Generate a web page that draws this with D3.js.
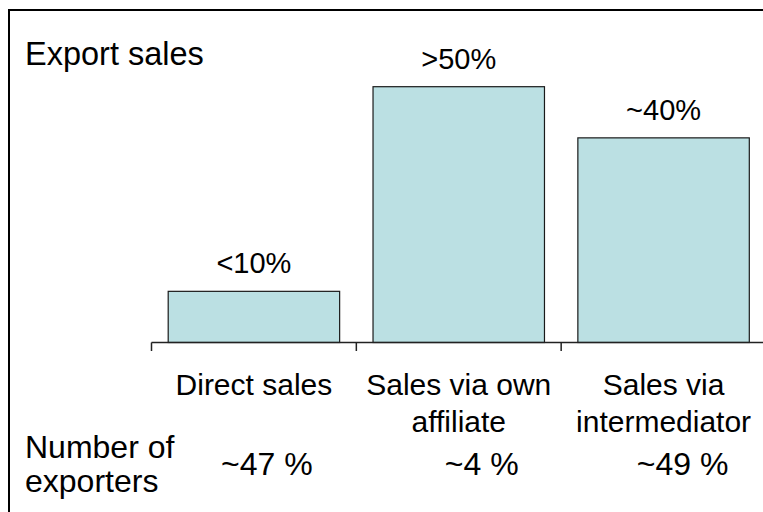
<!DOCTYPE html>
<html>
<head>
<meta charset="utf-8">
<script src="https://cdn.jsdelivr.net/npm/d3@7"></script>
<style>
  html, body { margin: 0; padding: 0; background: #fff; }
  svg { display: block; }
  text { font-family: "Liberation Sans", Arial, sans-serif; fill: #000; }
</style>
</head>
<body>
<svg id="chart" width="763" height="512"></svg>
<script>
// ---- data ----
const categories = ["Direct sales", "Sales via own affiliate", "Sales via intermediator"];
const categoryLines = [["Direct sales"], ["Sales via own", "affiliate"], ["Sales via", "intermediator"]];
const exportShare = [10, 50, 40];
const exportLabels = ["<10%", ">50%", "~40%"];
const exporterLabels = ["~47 %", "~4 %", "~49 %"];
const titleText = "Export sales";
const rowLabelLines = ["Number of", "exporters"];

// ---- layout ----
const W = 763, H = 512;
const baseY = 342.5;
const pctShift = [13, 23, 19];

const svg = d3.select("#chart");

// outer frame (extends past right/bottom edges, as in the reference)
svg.append("rect")
  .attr("x", 9).attr("y", 10)
  .attr("width", W + 20).attr("height", H + 20)
  .attr("fill", "none").attr("stroke", "#000").attr("stroke-width", 2);

const pi = 0.163;
const x = d3.scaleBand()
  .domain(categories)
  .range([151.5, 766])
  .paddingInner(pi)
  .paddingOuter(pi / 2);

const y = d3.scaleLinear().domain([0, 50]).range([baseY, 86.7]);

// bars
svg.append("g").selectAll("rect")
  .data(categories)
  .join("rect")
  .attr("x", d => x(d))
  .attr("y", (d, i) => y(exportShare[i]))
  .attr("width", x.bandwidth())
  .attr("height", (d, i) => y(0) - y(exportShare[i]))
  .attr("fill", "#bbe0e3")
  .attr("stroke", "#1a1a1a")
  .attr("stroke-width", 1.2);

// axis line + ticks at band boundaries
const halfGap = x.step() * pi / 2;
const bounds = categories.map(d => x(d) - halfGap).concat([x(categories[2]) + x.bandwidth() + halfGap]);
const axis = svg.append("g");
axis.append("line")
  .attr("x1", bounds[0]).attr("x2", bounds[3] + 5)
  .attr("y1", y(0)).attr("y2", y(0))
  .attr("stroke", "#222").attr("stroke-width", 1.5);
axis.selectAll("line.tick")
  .data(bounds)
  .join("line")
  .attr("class", "tick")
  .attr("x1", d => d).attr("x2", d => d)
  .attr("y1", y(0)).attr("y2", y(0) + 8.5)
  .attr("stroke", "#222").attr("stroke-width", 1.5);

// value labels above bars
svg.append("g").selectAll("text")
  .data(categories)
  .join("text")
  .attr("x", d => x(d) + x.bandwidth() / 2)
  .attr("y", (d, i) => y(exportShare[i]) - 18)
  .attr("text-anchor", "middle")
  .style("font-size", "29px")
  .text((d, i) => exportLabels[i]);

// category labels
const catG = svg.append("g");
categories.forEach((d, i) => {
  const t = catG.append("text")
    .attr("x", x(d) + x.bandwidth() / 2)
    .attr("y", 395)
    .attr("text-anchor", "middle")
    .style("font-size", "30px");
  categoryLines[i].forEach((ln, j) => {
    t.append("tspan")
      .attr("x", x(d) + x.bandwidth() / 2)
      .attr("dy", j === 0 ? 0 : 37)
      .text(ln);
  });
});

// exporter share row
svg.append("g").selectAll("text")
  .data(categories)
  .join("text")
  .attr("x", (d, i) => x(d) + x.bandwidth() / 2 + pctShift[i])
  .attr("y", 475)
  .attr("text-anchor", "middle")
  .style("font-size", "32px")
  .text((d, i) => exporterLabels[i]);

// title
svg.append("text")
  .attr("x", 25).attr("y", 65)
  .style("font-size", "32.5px")
  .text(titleText);

// row label
const rl = svg.append("text")
  .attr("x", 25).attr("y", 458)
  .style("font-size", "32px");
rowLabelLines.forEach((ln, j) => {
  rl.append("tspan").attr("x", 25).attr("dy", j === 0 ? 0 : 34).text(ln);
});
</script>
</body>
</html>
